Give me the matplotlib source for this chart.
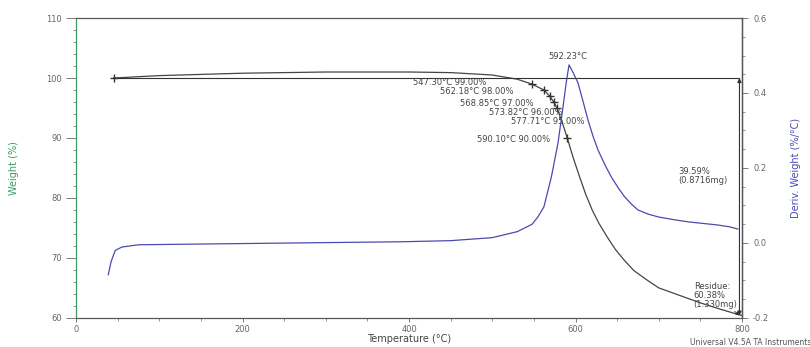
import matplotlib.pyplot as plt
from matplotlib.ticker import MultipleLocator

# TGA weight curve (%)
temp_w = [45, 100, 200, 300, 400, 450, 500, 530, 547.30, 562.18, 568.85, 573.82,
          577.71, 584, 590.10, 597, 605, 612, 620, 628, 638, 648, 658, 670, 686,
          700, 720, 750, 775, 800]
weight = [100.0, 100.4, 100.8, 101.0, 101.0, 100.9, 100.5, 99.8, 99.0, 98.0, 97.0, 96.0,
          95.0, 92.6, 90.0, 86.8, 83.5, 80.7, 78.0, 75.8, 73.5, 71.4, 69.7, 67.9, 66.3,
          65.0, 64.0, 62.5, 61.4, 60.38]

# derivative curve (%/°C)
temp_d = [38.6, 42, 47, 55, 75, 150, 270, 390, 450, 500, 530, 548, 555, 562, 571, 579,
          585, 589, 592.23, 597, 603, 609, 615, 621, 627, 635, 643, 651, 659, 667, 675,
          687, 700, 718, 736, 770, 785, 795]
deriv = [-0.085, -0.05, -0.02, -0.011, -0.005, -0.003, 0.0, 0.003, 0.006, 0.014, 0.03,
         0.05, 0.07, 0.096, 0.176, 0.267, 0.363, 0.43, 0.475, 0.455, 0.427, 0.378, 0.328,
         0.285, 0.248, 0.21, 0.176, 0.148, 0.123, 0.104, 0.088, 0.077, 0.069, 0.062,
         0.056, 0.048, 0.043, 0.037]

# labelled points on the weight curve
mark_t = [547.30, 562.18, 568.85, 573.82, 577.71, 590.10]
mark_w = [99.0, 98.0, 97.0, 96.0, 95.0, 90.0]
mark_txt_x = [493, 526, 550, 584, 611, 569]
mark_txt_y = [99.2, 97.7, 95.8, 94.2, 92.7, 89.8]

green = '#3c9a62'
blue = '#4a4ab0'
grey = '#666666'

fig = plt.figure(figsize=(8.1, 3.47), dpi=100)
ax = fig.add_axes([0.094, 0.084, 0.822, 0.864])
ax2 = ax.twinx()

ax.plot(temp_w, weight, color='#3e4a3e', lw=0.9)
ax2.plot(temp_d, deriv, color=blue, lw=0.9)

# 100 % baseline and step arrow
ax.plot([45, 797], [100, 100], color='#333333', lw=0.8)
ax.plot([45], [100], marker='+', color='#333333', ms=6)
ax.annotate('', xy=(797, 60.38), xytext=(797, 100),
            arrowprops=dict(arrowstyle='<|-|>', color='#333333', lw=0.8,
                            shrinkA=0, shrinkB=0, mutation_scale=6))

ax.plot(mark_t, mark_w, ls='none', marker='+', color='#333333', ms=6)
for t, w, tx, ty in zip(mark_t, mark_w, mark_txt_x, mark_txt_y):
    ax.text(tx, ty, f'{t:.2f}°C {w:.2f}%', ha='right', va='center',
            fontsize=6, color='#444444')

ax.text(591, 103.6, '592.23°C', ha='center', va='center', fontsize=6, color='#444444')
ax.text(724, 83.6, '39.59%\n(0.8716mg)', ha='left', va='center', fontsize=6,
        color='#444444', linespacing=1.0)
ax.annotate('Residue:\n60.38%\n(1.330mg)', xy=(797, 60.4), xytext=(742, 63.8),
            ha='left', va='center', fontsize=6, color='#444444', linespacing=1.0,
            arrowprops=dict(arrowstyle='-|>', color='#333333', lw=0.6,
                            mutation_scale=5, shrinkA=0, shrinkB=0))

ax.set_xlim(0, 800)
ax.set_ylim(60, 110)
ax2.set_ylim(-0.2, 0.6)

ax.xaxis.set_major_locator(MultipleLocator(200))
ax.xaxis.set_minor_locator(MultipleLocator(50))
ax.yaxis.set_major_locator(MultipleLocator(10))
ax.yaxis.set_minor_locator(MultipleLocator(2))
ax2.yaxis.set_major_locator(MultipleLocator(0.2))
ax2.yaxis.set_minor_locator(MultipleLocator(0.05))

ax.set_xlabel('Temperature (°C)', fontsize=7, color='#444444', labelpad=0)
ax.set_ylabel('Weight (%)', fontsize=7, color=green, labelpad=20)
ax2.set_ylabel('Deriv. Weight (%/°C)', fontsize=7, color=blue, labelpad=16)

for a in (ax, ax2):
    a.tick_params(labelsize=6, colors=grey, length=4, width=0.6, pad=4)
    a.tick_params(which='minor', length=2, width=0.5, colors=grey)
ax.tick_params(axis='y', length=7, pad=3)
ax.tick_params(axis='x', length=3, pad=2)
ax2.yaxis.set_major_formatter(plt.FuncFormatter(lambda v, p: f'{v:.1f}'))

ax.spines['left'].set_color(green)
ax2.spines['left'].set_color(green)
ax2.spines['right'].set_color('#555555')
ax2.spines['right'].set_linewidth(1.0)
for s in ('top', 'bottom'):
    ax.spines[s].set_color('#555555')
    ax2.spines[s].set_color('#555555')

fig.text(0.852, 0.012, 'Universal V4.5A TA Instruments', fontsize=5.5, color='#555555',
         ha='left', va='center')

fig.savefig('out.png', dpi=100)
